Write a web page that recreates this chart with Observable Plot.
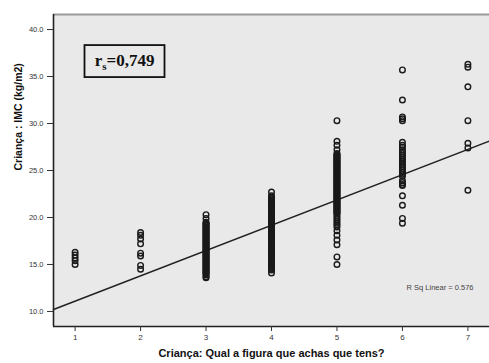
<!DOCTYPE html>
<html><head><meta charset="utf-8">
<script src="https://cdn.jsdelivr.net/npm/d3@7"></script>
<script src="https://cdn.jsdelivr.net/npm/@observablehq/plot@0.6"></script>
<style>body{margin:0;background:#fff}#chart{width:489px;height:363px}</style>
</head><body><div id="chart"></div>
<script>
// Categories (x) and BMI values (y) per category
const categories = [1, 2, 3, 4, 5, 6, 7];
const imc1 = [16.3, 16.0, 15.7, 15.4, 15.0];
const imc2 = [18.4, 18.1, 17.7, 17.2, 16.2, 15.9, 14.9, 14.5];
const imc3 = [20.3, 19.9, 19.5, 19.4, 19.3, 19.2, 19.1, 19.0, 18.9, 18.8, 18.7, 18.6, 18.5, 18.4, 18.3, 18.2, 18.1, 18.0, 17.9, 17.8, 17.7, 17.6, 17.5, 17.4, 17.3, 17.2, 17.1, 17.0, 16.9, 16.8, 16.7, 16.6, 16.5, 16.4, 16.3, 16.2, 16.1, 16.0, 15.9, 15.8, 15.7, 15.6, 15.5, 15.4, 15.3, 15.2, 15.1, 15.0, 14.9, 14.8, 14.7, 14.6, 14.5, 14.4, 14.3, 14.2, 14.1, 14.0, 13.9, 13.7, 13.6];
const imc4 = [22.7, 22.3, 22.1, 22.0, 21.9, 21.8, 21.7, 21.6, 21.5, 21.4, 21.3, 21.2, 21.1, 21.0, 20.9, 20.8, 20.7, 20.6, 20.5, 20.4, 20.3, 20.2, 20.1, 20.0, 19.9, 19.8, 19.7, 19.6, 19.5, 19.4, 19.3, 19.2, 19.1, 19.0, 18.9, 18.8, 18.7, 18.6, 18.5, 18.4, 18.3, 18.2, 18.1, 18.0, 17.9, 17.8, 17.7, 17.6, 17.5, 17.4, 17.3, 17.2, 17.1, 17.0, 16.9, 16.8, 16.7, 16.6, 16.5, 16.4, 16.3, 16.2, 16.1, 16.0, 15.9, 15.8, 15.7, 15.6, 15.5, 15.4, 15.3, 15.2, 15.1, 15.0, 14.9, 14.8, 14.7, 14.6, 14.5, 14.4, 14.1];
const imc5 = [30.3, 28.1, 27.7, 27.2, 26.8, 26.7, 26.6, 26.5, 26.4, 26.3, 26.2, 26.1, 26.0, 25.9, 25.8, 25.7, 25.6, 25.5, 25.4, 25.3, 25.2, 25.1, 25.0, 24.9, 24.8, 24.7, 24.6, 24.5, 24.4, 24.3, 24.2, 24.1, 24.0, 23.9, 23.8, 23.7, 23.6, 23.5, 23.4, 23.3, 23.2, 23.1, 23.0, 22.9, 22.8, 22.7, 22.6, 22.5, 22.4, 22.3, 22.2, 22.1, 22.0, 21.9, 21.8, 21.7, 21.6, 21.5, 21.4, 21.3, 21.2, 21.1, 21.0, 20.9, 20.8, 20.7, 20.6, 20.5, 20.4, 20.2, 20.0, 19.8, 19.6, 19.4, 19.2, 19.0, 18.6, 18.1, 17.6, 17.1, 15.8, 15.0];
const imc6 = [35.7, 32.5, 30.7, 30.5, 30.3, 28.0, 27.7, 27.5, 27.2, 27.0, 26.8, 26.6, 26.4, 26.2, 26.0, 25.8, 25.6, 25.4, 25.2, 25.0, 24.8, 24.6, 24.4, 23.9, 23.7, 23.5, 23.4, 22.3, 21.3, 19.9, 19.4];
const imc7 = [36.3, 36.0, 33.9, 30.3, 27.9, 27.4, 22.9];
const yTicks = [10, 15, 20, 25, 30, 35, 40];
const xDomain = [0.67, 7.33];
const yDomain = [8.4, 41.6];
const fitIntercept = 8.41;
const fitSlope = 2.69;
const rsLabel = "rs=0,749";
const rSqLabel = "R Sq Linear = 0.576";
const xTitle = "Criança: Qual a figura que achas que tens?";
const yTitle = "Criança : IMC (kg/m2)";

const series = [imc1, imc2, imc3, imc4, imc5, imc6, imc7];
const points = series.flatMap((vals, i) => vals.map(v => ({x: categories[i], y: v})));
const fitLine = xDomain.map(x => ({x, y: fitIntercept + fitSlope * x}));

const plot = Plot.plot({
  width: 489, height: 363,
  marginLeft: 53, marginRight: 0, marginTop: 14, marginBottom: 37,
  style: {fontFamily: "'Liberation Sans', Arial, sans-serif", background: "white", overflow: "visible"},
  x: {domain: xDomain, label: null},
  y: {domain: yDomain, label: null},
  marks: [
    Plot.frame({fill: "#e9e9e9", stroke: null}),
    Plot.ruleY([yDomain[1]], {stroke: "#9a9a9a", strokeWidth: 2}),
    Plot.ruleX([xDomain[0]], {stroke: "#222", strokeWidth: 1.6}),
    Plot.ruleY([yDomain[0]], {stroke: "#222", strokeWidth: 1.6}),
    Plot.axisX({ticks: categories, tickFormat: d => String(d), tickSize: 5, tickPadding: 3, fontSize: 8, color: "#333", label: null}),
    Plot.axisY({ticks: yTicks, tickFormat: d => d.toFixed(1), tickSize: 6, tickPadding: 4, fontSize: 7.5, color: "#333", label: null}),
    Plot.line(fitLine, {x: "x", y: "y", stroke: "#222", strokeWidth: 1.5}),
    Plot.dot(points, {x: "x", y: "y", r: 2.8, stroke: "#1a1a1a", strokeWidth: 1.4, fill: "none"}),
    Plot.text([rSqLabel], {frameAnchor: "bottom-right", dx: -16, dy: -37, textAnchor: "end", fontSize: 7.5, fill: "#444"}),
    Plot.text([rsLabel], {frameAnchor: "top-left", dx: 71, dy: 39, textAnchor: "middle", fontSize: 17, fontWeight: "bold", fontFamily: "'Liberation Serif', 'Times New Roman', serif", fill: "#111"}),
    Plot.text([xTitle], {frameAnchor: "bottom", dy: 30, fontSize: 11, fontWeight: "bold", fill: "#111"}),
    Plot.text([yTitle], {frameAnchor: "left", dx: -35, rotate: -90, fontSize: 10.5, fontWeight: "bold", fill: "#111"})
  ]
});
document.getElementById("chart").append(plot);

// subscript "s" in the r_s annotation and a box around it
const rsText = [...plot.querySelectorAll("text")].find(t => t.textContent === rsLabel);
if (rsText) {
  rsText.textContent = "";
  const ns = "http://www.w3.org/2000/svg";
  const parts = [["r", null, 0], ["s", "11px", 4], ["=0,749", null, -4]];
  for (const [txt, fs, dy] of parts) {
    const ts = document.createElementNS(ns, "tspan");
    ts.textContent = txt;
    if (fs) ts.setAttribute("font-size", fs);
    if (dy) ts.setAttribute("dy", dy);
    rsText.appendChild(ts);
  }
  const bb = rsText.getBBox();
  const rect = document.createElementNS(ns, "rect");
  const w = 80, h = 32;
  rect.setAttribute("x", bb.x + bb.width / 2 - w / 2);
  rect.setAttribute("y", bb.y + bb.height / 2 - h / 2);
  rect.setAttribute("width", w);
  rect.setAttribute("height", h);
  rect.setAttribute("fill", "none");
  rect.setAttribute("stroke", "#111");
  rect.setAttribute("stroke-width", 1.8);
  if (rsText.getAttribute("transform")) rect.setAttribute("transform", rsText.getAttribute("transform"));
  rsText.parentNode.insertBefore(rect, rsText);
}
</script>
</body></html>
